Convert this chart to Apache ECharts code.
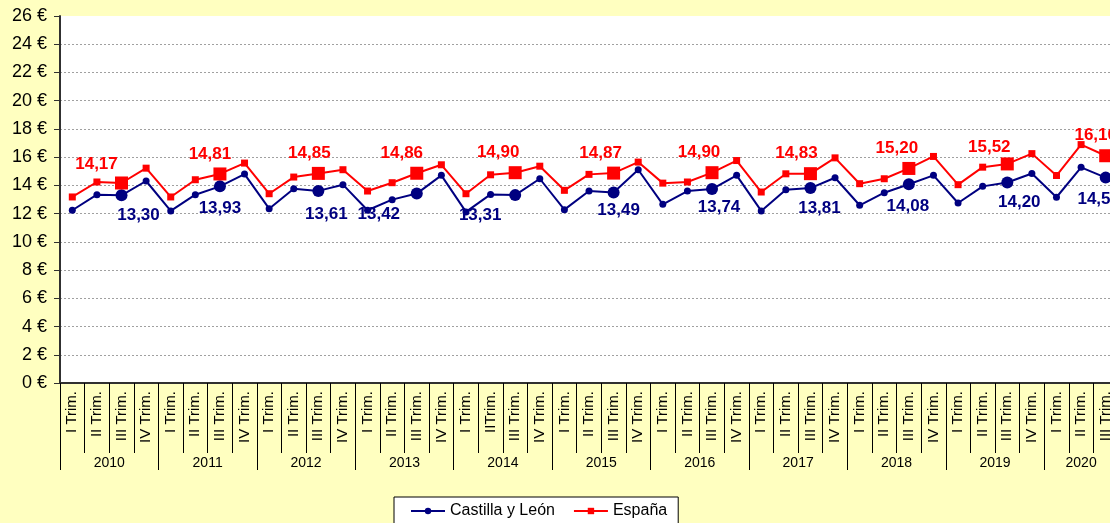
<!DOCTYPE html>
<html>
<head>
<meta charset="utf-8">
<script src="https://cdn.jsdelivr.net/npm/echarts@6/dist/echarts.min.js"></script>
<style>
html,body{margin:0;padding:0;background:#FFFFC0;overflow:hidden;width:1110px;height:523px;}
#chart{width:1118px;height:523px;}
</style>
</head>
<body>
<div id="chart"></div>
<script>
// ---- data ----
const years = ['2010','2011','2012','2013','2014','2015','2016','2017','2018','2019','2020'];
const quarterLabels = [
  'I Trim.','II Trim.','III Trim.','IV Trim.',
  'I Trim.','II Trim.','III Trim.','IV Trim.',
  'I Trim.','II Trim.','III Trim.','IV Trim.',
  'I Trim.','II Trim.','III Trim.','IV Trim.',
  'I Trim.','IITrim.','III Trim.','IV Trim.',
  'I Trim.','II Trim.','III Trim.','IV Trim.',
  'I Trim.','II Trim.','III Trim.','IV Trim.',
  'I Trim.','II Trim.','III Trim.','IV Trim.',
  'I Trim.','II Trim.','III Trim.','IV Trim.',
  'I Trim.','II Trim.','III Trim.','IV Trim.',
  'I Trim.','II Trim.','III Trim.'
];
const quartersPerYear = [4,4,4,4,4,4,4,4,4,4,3];
const castillaLeon = [
  12.24,13.34,13.30,14.31,
  12.19,13.34,13.93,14.80,
  12.35,13.76,13.61,14.05,
  12.24,12.99,13.42,14.71,
  12.12,13.36,13.31,14.47,
  12.28,13.60,13.49,15.11,
  12.66,13.60,13.74,14.71,
  12.19,13.69,13.81,14.54,
  12.59,13.48,14.08,14.71,
  12.75,13.93,14.20,14.84,
  13.16,15.28,14.55
];
const espana = [
  13.18,14.24,14.17,15.22,
  13.18,14.40,14.81,15.58,
  13.41,14.59,14.85,15.11,
  13.60,14.19,14.86,15.46,
  13.41,14.75,14.90,15.36,
  13.65,14.78,14.87,15.65,
  14.16,14.24,14.90,15.76,
  13.53,14.82,14.83,15.95,
  14.12,14.47,15.20,16.05,
  14.05,15.29,15.52,16.25,
  14.70,16.89,16.10
];
const yTicks = [0,2,4,6,8,10,12,14,16,18,20,22,24,26];

// ---- label placement (style only) ----
const espLabelDx = [-25,-10,-9,-15,-17,-13,-13,-14,-12,-18,-10];
const espLabelDy = [-19,-20,-20,-20,-20,-20,-20,-20,-20,-17,-20];
const cylLabelDx = [17,0,8,-38,-35,5,7,9,-1,12,-7];
const cylLabelDy = [20,22,23,21,20,18,18,20,22,20,22];

const fmt = v => v.toFixed(2).replace('.', ',');
const isThird = i => quarterLabels[i].indexOf('III') === 0;

// year boundaries / centers derived from quarter counts
const yearBounds = [0];
const yearCenters = [];
quartersPerYear.forEach((n, k) => {
  yearCenters.push(yearBounds[k] + n / 2);
  yearBounds.push(yearBounds[k] + n);
});

function buildData(values, color, big, small, dxArr, dyArr) {
  let yi = 0;
  return values.map((v, i) => {
    if (isThird(i)) {
      const k = yi++;
      return {
        value: v,
        symbolSize: big,
        label: {
          show: true,
          position: 'inside',
          align: 'center',
          verticalAlign: 'middle',
          offset: [dxArr[k], dyArr[k]],
          formatter: () => fmt(v),
          color: color,
          fontWeight: 'bold',
          fontSize: 17,
          fontFamily: 'Liberation Sans'
        }
      };
    }
    return { value: v, symbolSize: small };
  });
}

const chart = echarts.init(document.getElementById('chart'), null, {renderer: 'canvas'});
chart.setOption({
  backgroundColor: '#FFFFC0',
  animation: false,
  textStyle: { fontFamily: 'Liberation Sans' },
  grid: {
    left: 60, top: 16, bottom: 140, right: 0,
    show: true, backgroundColor: '#FFFFFF', borderWidth: 0
  },
  xAxis: [
    {
      type: 'category',
      data: quarterLabels,
      boundaryGap: true,
      axisLine: { show: true, lineStyle: { color: '#303030', width: 2 } },
      axisTick: { show: true, interval: 0, length: 70, lineStyle: { color: '#000', width: 1 } },
      axisLabel: {
        interval: 0, rotate: 90, margin: 8,
        fontSize: 15, color: '#000', fontFamily: 'Liberation Sans'
      },
      splitLine: { show: false }
    },
    {
      type: 'value',
      min: 0, max: yearBounds[yearBounds.length - 1],
      position: 'bottom',
      axisLine: { show: false },
      axisTick: { show: true, customValues: yearBounds, length: 87, lineStyle: { color: '#000', width: 1 } },
      axisLabel: {
        show: true,
        customValues: yearCenters,
        margin: 73,
        fontSize: 14, color: '#000', fontFamily: 'Liberation Sans',
        formatter: v => {
          const k = yearCenters.findIndex(c => Math.abs(c - v) < 1e-6);
          return k >= 0 ? years[k] : '';
        }
      },
      splitLine: { show: false }
    }
  ],
  yAxis: {
    type: 'value',
    min: yTicks[0], max: yTicks[yTicks.length - 1], interval: 2,
    axisLine: { show: true, lineStyle: { color: '#303030', width: 2 } },
    axisTick: { show: true, length: 6, lineStyle: { color: '#303030' } },
    axisLabel: {
      margin: 13, fontSize: 18, color: '#000', fontFamily: 'Liberation Sans',
      formatter: v => v + ' €'
    },
    splitLine: { show: true, showMaxLine: false, lineStyle: { color: '#A0A0A0', type: [2, 2], width: 1 } }
  },
  legend: {
    left: 394, top: 497,
    backgroundColor: '#FFFFFF',
    borderColor: '#000', borderWidth: 1, borderRadius: 0,
    padding: [6, 11, 8, 16],
    itemWidth: 34, itemHeight: 8, itemGap: 18,
    textStyle: { fontSize: 16, color: '#000', fontFamily: 'Liberation Sans' },
    data: ['Castilla y León', 'España']
  },
  series: [
    {
      name: 'Castilla y León',
      type: 'line',
      xAxisIndex: 0,
      symbol: 'circle',
      color: '#000080',
      lineStyle: { color: '#000080', width: 2 },
      itemStyle: { color: '#000080' },
      data: buildData(castillaLeon, '#000080', 12, 7, cylLabelDx, cylLabelDy),
      z: 3
    },
    {
      name: 'España',
      type: 'line',
      xAxisIndex: 0,
      symbol: 'rect',
      color: '#FF0000',
      lineStyle: { color: '#FF0000', width: 2 },
      itemStyle: { color: '#FF0000' },
      data: buildData(espana, '#FF0000', 13, 7, espLabelDx, espLabelDy),
      z: 4
    }
  ]
});
</script>
</body>
</html>
